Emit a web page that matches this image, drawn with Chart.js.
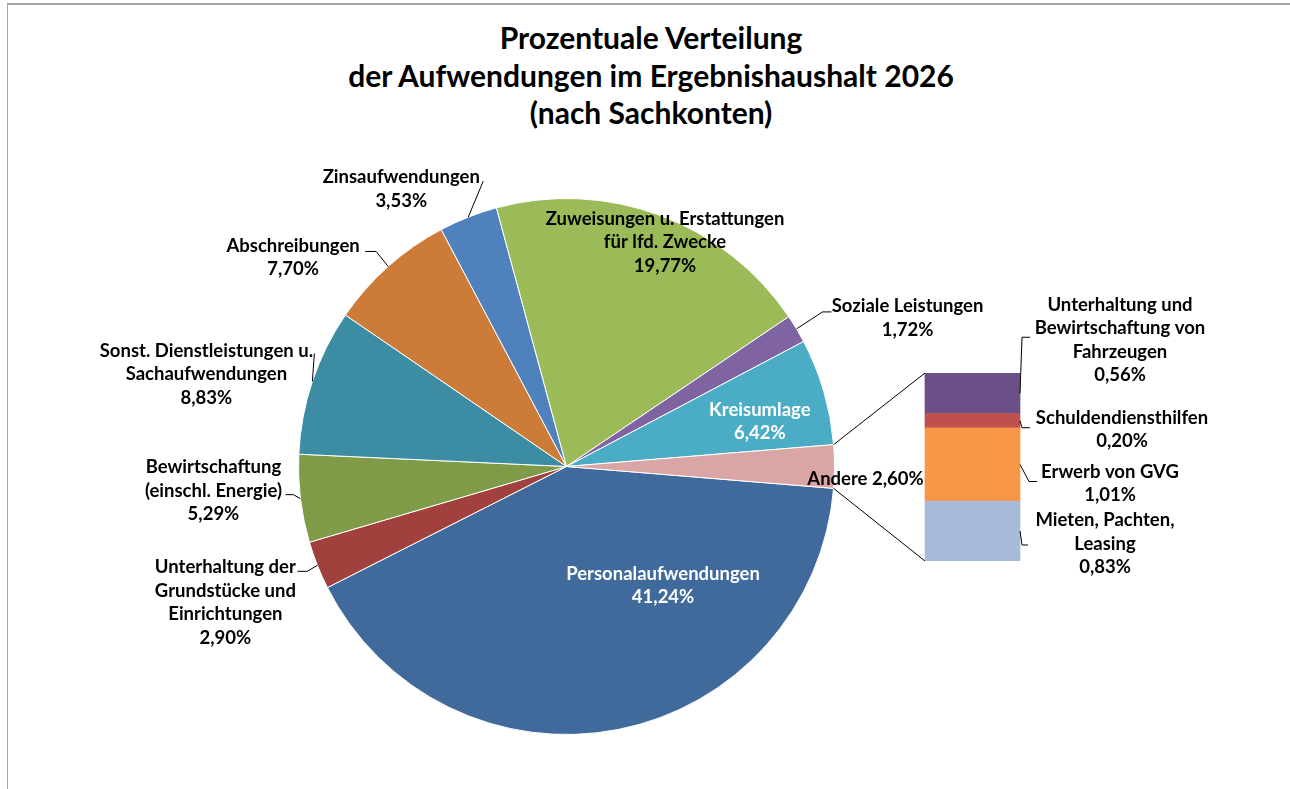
<!DOCTYPE html>
<html>
<head>
<meta charset="utf-8">
<script src="https://cdn.jsdelivr.net/npm/chart.js@4/dist/chart.umd.min.js"></script>
<style>
  body { margin: 0; background: #fff; }
  #wrap { position: relative; width: 1290px; height: 789px; overflow: hidden; }
  #frame { position: absolute; left: 7px; top: 3px; right: -5px; bottom: -5px;
           border-left: 1px solid #a6a6a6; border-top: 2px solid #a6a6a6; }
  canvas { position: absolute; left: 0; top: 0; }
  #title { position: absolute; left: 301px; width: 700px; top: 19px; text-align: center;
           font: bold 30px Lato, sans-serif; line-height: 37.5px; color: #000; }
</style>
</head>
<body>
<div id="wrap">
  <div id="frame"></div>
  <div id="title">Prozentuale Verteilung<br>der Aufwendungen im Ergebnishaushalt 2026<br>(nach Sachkonten)</div>
  <canvas id="pie" width="1290" height="789"></canvas>
  <canvas id="bar" width="1290" height="789"></canvas>
</div>
<script>
// main pie, clockwise from the "Andere" slice
const pieLabels = [
  'Personalaufwendungen',
  'Unterhaltung der\nGrundstücke und\nEinrichtungen',
  'Bewirtschaftung\n(einschl. Energie)',
  'Sonst. Dienstleistungen u.\nSachaufwendungen',
  'Abschreibungen',
  'Zinsaufwendungen',
  'Zuweisungen u. Erstattungen\nfür lfd. Zwecke',
  'Soziale Leistungen',
  'Kreisumlage',
  'Andere'
];
const pieValues = [41.24, 2.90, 5.29, 8.83, 7.70, 3.53, 19.77, 1.72, 6.42, 2.60];
const pieColors = ['#416a9c', '#a0413e', '#7f9b48', '#3c8da3', '#cc7b38',
                   '#4f81bd', '#9bbb59', '#8064a2', '#4bacc6', '#d9a6a5'];

// breakdown of "Andere", bottom to top of the stacked bar
const otherLabels = ['Mieten, Pachten,\nLeasing', 'Erwerb von GVG', 'Schuldendiensthilfen',
                     'Unterhaltung und\nBewirtschaftung von\nFahrzeugen'];
const otherValues = [0.83, 1.01, 0.20, 0.56];
const otherColors = ['#a9b9d8', '#f79646', '#c0504d', '#6b5088'];

const fmt = v => v.toFixed(2).replace('.', ',') + '%';
const FONT = 'bold 18.5px Lato, sans-serif';
const LH = 23.5;

// label placement: offset of block centre from the slice's outer edge point, leader polyline
const pieLabelPos = [
  { d: [45, -144], color: '#fff' },
  { d: [-92, 37], leader: [[-10, 6], [-20, 6]] },
  { d: [-87, -8], leader: [[-7, -4], [-15, -4]] },
  { d: [-106, -7], leader: [[2, -28]] },
  { d: [-95, -9], leader: [[-12, -15], [-23, -15]] },
  { d: [-67, -28], leader: [[15, -36]] },
  { d: [5, 27] },
  { d: [111, -11], leader: [[26, -17], [35, -17]] },
  { d: [-64, 30], color: '#fff' },
  { d: [31, 13], oneLine: true }
];
const otherLabelPos = [
  { d: [85, 13], leader: [[2, 14], [8, 14]] },
  { d: [90, 19], leader: [[9, 17], [17, 17]] },
  { d: [102, 9], leader: [[2, 7], [10, 7]] },
  { d: [100, -53], leader: [[2, -56], [10, -56]] }
];

function drawBlock(ctx, text, x, y, color) {
  const lines = text.split('\n');
  ctx.fillStyle = color || '#000';
  ctx.font = FONT;
  ctx.textAlign = 'center';
  ctx.textBaseline = 'middle';
  lines.forEach((t, i) => ctx.fillText(t, x, y + (i - (lines.length - 1) / 2) * LH));
}

function drawLeader(ctx, x, y, pts) {
  ctx.beginPath();
  ctx.moveTo(x, y);
  pts.forEach(p => ctx.lineTo(x + p[0], y + p[1]));
  ctx.strokeStyle = '#000';
  ctx.lineWidth = 1;
  ctx.stroke();
}

const pieLabelPlugin = {
  id: 'pieLabels',
  afterDatasetsDraw(chart) {
    const ctx = chart.ctx;
    ctx.save();
    chart.getDatasetMeta(0).data.forEach((arc, i) => {
      const mid = (arc.startAngle + arc.endAngle) / 2;
      const ex = arc.x + Math.cos(mid) * arc.outerRadius;
      const ey = arc.y + Math.sin(mid) * arc.outerRadius;
      const p = pieLabelPos[i];
      if (p.leader) drawLeader(ctx, ex, ey, p.leader);
      const txt = p.oneLine ? pieLabels[i] + ' ' + fmt(pieValues[i]) : pieLabels[i] + '\n' + fmt(pieValues[i]);
      drawBlock(ctx, txt, ex + p.d[0], ey + p.d[1], p.color);
    });
    ctx.restore();
  }
};

const pieChart = new Chart(document.getElementById('pie'), {
  type: 'pie',
  data: {
    labels: pieLabels,
    datasets: [{
      data: pieValues,
      backgroundColor: pieColors,
      borderColor: '#fff',
      borderWidth: 1,
      hoverOffset: 0
    }]
  },
  options: {
    responsive: false,
    animation: false,
    // "Andere" slice centred on the 3 o'clock direction
    rotation: 90 + pieValues[pieValues.length - 1] / 100 * 180,
    layout: { padding: { left: 298, right: 455, top: 198, bottom: 54 } },
    plugins: { legend: { display: false }, tooltip: { enabled: false } }
  },
  plugins: [pieLabelPlugin]
});

const barLabelPlugin = {
  id: 'barLabels',
  afterDatasetsDraw(chart) {
    const ctx = chart.ctx;
    ctx.save();
    // connector lines from the "Andere" slice to the bar
    const arcs = pieChart.getDatasetMeta(0).data;
    const a = arcs[arcs.length - 1];
    const top = chart.getDatasetMeta(otherValues.length - 1).data[0];
    const bottom = chart.getDatasetMeta(0).data[0];
    const left = top.x - top.width / 2;
    ctx.beginPath();
    ctx.moveTo(a.x + Math.cos(a.startAngle) * a.outerRadius, a.y + Math.sin(a.startAngle) * a.outerRadius);
    ctx.lineTo(left, top.y);
    ctx.moveTo(a.x + Math.cos(a.endAngle) * a.outerRadius, a.y + Math.sin(a.endAngle) * a.outerRadius);
    ctx.lineTo(left, bottom.base);
    ctx.strokeStyle = '#000';
    ctx.lineWidth = 1;
    ctx.stroke();

    otherValues.forEach((v, i) => {
      const bar = chart.getDatasetMeta(i).data[0];
      const rx = bar.x + bar.width / 2;
      const cy = (bar.y + bar.base) / 2;
      const p = otherLabelPos[i];
      drawLeader(ctx, rx, cy, p.leader);
      drawBlock(ctx, otherLabels[i] + '\n' + fmt(v), rx + p.d[0], cy + p.d[1]);
    });
    ctx.restore();
  }
};

new Chart(document.getElementById('bar'), {
  type: 'bar',
  data: {
    labels: ['Andere'],
    datasets: otherValues.map((v, i) => ({
      label: otherLabels[i],
      data: [v],
      backgroundColor: otherColors[i],
      barThickness: 95
    }))
  },
  options: {
    responsive: false,
    animation: false,
    layout: { padding: { left: 880, right: 225, top: 373, bottom: 228 } },
    scales: {
      x: { display: false, stacked: true },
      y: { display: false, stacked: true, min: 0, max: otherValues.reduce((s, v) => s + v, 0) }
    },
    plugins: { legend: { display: false }, tooltip: { enabled: false } }
  },
  plugins: [barLabelPlugin]
});
</script>
</body>
</html>
